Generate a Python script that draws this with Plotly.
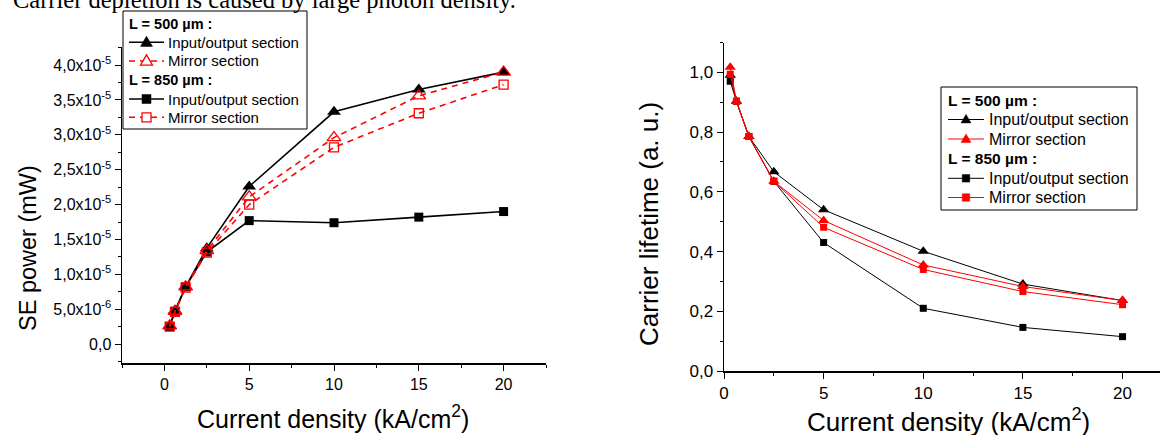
import plotly.graph_objects as go

W, H = 1160, 435

# ---------------- data ----------------
current_density = [0.3125, 0.625, 1.25, 2.5, 5, 10, 15, 20]

se_500_io = [2.6e-6, 4.8e-6, 8.2e-6, 1.375e-5, 2.26e-5, 3.33e-5, 3.65e-5, 3.90e-5]
se_500_mirror = [2.6e-6, 4.7e-6, 8.2e-6, 1.34e-5, 2.11e-5, 2.96e-5, 3.56e-5, 3.90e-5]
se_850_io = [2.5e-6, 4.7e-6, 8.2e-6, 1.32e-5, 1.77e-5, 1.74e-5, 1.82e-5, 1.90e-5]
se_850_mirror = [2.5e-6, 4.6e-6, 8.1e-6, 1.31e-5, 2.00e-5, 2.82e-5, 3.31e-5, 3.72e-5]

lt_500_io = [0.99, 0.903, 0.785, 0.667, 0.540, 0.401, 0.291, 0.236]
lt_500_mirror = [1.017, 0.903, 0.785, 0.635, 0.504, 0.355, 0.283, 0.236]
lt_850_io = [0.970, 0.903, 0.785, 0.635, 0.430, 0.210, 0.146, 0.115]
lt_850_mirror = [0.994, 0.903, 0.785, 0.635, 0.481, 0.340, 0.266, 0.222]

se_tickvals = [0, 5e-6, 1e-5, 1.5e-5, 2e-5, 2.5e-5, 3e-5, 3.5e-5, 4e-5]
se_ticktext = ["0,0", "5,0x10<sup>-6</sup>", "1,0x10<sup>-5</sup>", "1,5x10<sup>-5</sup>",
               "2,0x10<sup>-5</sup>", "2,5x10<sup>-5</sup>", "3,0x10<sup>-5</sup>",
               "3,5x10<sup>-5</sup>", "4,0x10<sup>-5</sup>"]
x_tickvals = [0, 5, 10, 15, 20]
lt_tickvals = [0, 0.2, 0.4, 0.6, 0.8, 1.0]
lt_ticktext = ["0,0", "0,2", "0,4", "0,6", "0,8", "1,0"]

group_500 = "L = 500 µm :"
group_850 = "L = 850 µm :"
name_io = "Input/output section"
name_mirror = "Mirror section"
top_text = "Carrier depletion is caused by large photon density."
xtitle = "Current density (kA/cm<sup>2</sup>)"
ytitle_left = "SE power (mW)"
ytitle_right = "Carrier lifetime (a. u.)"

SANS = "Liberation Sans, Arial, sans-serif"
SERIF = "Liberation Serif, Times New Roman, serif"
RED = "#ff0000"


def px(xp):
    return xp / W


def py(yp):
    return (H - yp) / H


# styles of the four series in each chart
left_styles = {
    "500io": dict(color="black", dash="solid", width=1.6, symbol="triangle-up", size=12, open=False),
    "500mi": dict(color=RED, dash="6px,5px", width=1.6, symbol="triangle-up-open", size=12, open=True),
    "850io": dict(color="black", dash="solid", width=1.6, symbol="square", size=9, open=False),
    "850mi": dict(color=RED, dash="6px,5px", width=1.6, symbol="square-open", size=9, open=True),
}
right_styles = {
    "500io": dict(color="black", dash="solid", width=1, symbol="triangle-up", size=10, open=False),
    "500mi": dict(color=RED, dash="solid", width=1, symbol="triangle-up", size=10, open=False),
    "850io": dict(color="black", dash="solid", width=1, symbol="square", size=7, open=False),
    "850mi": dict(color=RED, dash="solid", width=1, symbol="square", size=7, open=False),
}

fig = go.Figure()


def add_series(y, name, st, xa, ya):
    marker = dict(symbol=st["symbol"], size=st["size"], color=st["color"])
    if st["open"]:
        marker["line"] = dict(width=1.3, color=st["color"])
    fig.add_trace(go.Scatter(
        x=current_density, y=y, name=name, mode="lines+markers",
        line=dict(color=st["color"], width=st["width"], dash=st["dash"]),
        marker=marker, xaxis=xa, yaxis=ya, showlegend=False))


# draw black series first, red on top (as in the reference)
add_series(se_850_io, name_io, left_styles["850io"], "x", "y")
add_series(se_500_io, name_io, left_styles["500io"], "x", "y")
add_series(se_850_mirror, name_mirror, left_styles["850mi"], "x", "y")
add_series(se_500_mirror, name_mirror, left_styles["500mi"], "x", "y")

add_series(lt_850_io, name_io, right_styles["850io"], "x2", "y2")
add_series(lt_500_io, name_io, right_styles["500io"], "x2", "y2")
add_series(lt_850_mirror, name_mirror, right_styles["850mi"], "x2", "y2")
add_series(lt_500_mirror, name_mirror, right_styles["500mi"], "x2", "y2")

axis_common = dict(
    showline=True, linecolor="black", linewidth=1.5, showgrid=False, zeroline=False,
    ticks="outside", ticklen=6, tickwidth=1, tickcolor="black", mirror=False,
)
minor_common = dict(ticks="outside", ticklen=3, tickcolor="black", tickwidth=1, showgrid=False)

fig.update_layout(
    width=W, height=H,
    margin=dict(l=0, r=0, t=0, b=0, autoexpand=False),
    paper_bgcolor="white", plot_bgcolor="white",
    font=dict(family=SANS, color="black"),
    showlegend=False,
    hovermode=False,
    xaxis=dict(domain=[px(122), px(546)], range=[-2.5, 22.5], anchor="y",
               tickvals=x_tickvals, tickfont=dict(size=16),
               minor=dict(dtick=2.5, tick0=0, **minor_common), **axis_common),
    yaxis=dict(domain=[py(363), py(47)], range=[-2.72e-6, 4.26e-5], anchor="x",
               tickvals=se_tickvals, ticktext=se_ticktext, tickfont=dict(size=16),
               minor=dict(dtick=2.5e-6, tick0=0, **minor_common), **axis_common),
    xaxis2=dict(domain=[px(724), 1.0], range=[0, 21.88], anchor="y2",
                tickvals=x_tickvals, tickfont=dict(size=17),
                minor=dict(dtick=2.5, tick0=0, **minor_common), **axis_common),
    yaxis2=dict(domain=[py(371), py(42.5)], range=[0, 1.1], anchor="x2",
                tickvals=lt_tickvals, ticktext=lt_ticktext, tickfont=dict(size=17),
                minor=dict(dtick=0.1, tick0=0, **minor_common), **axis_common),
)

shapes = []
annotations = []


def marker_path(cx, cy, symbol, size):
    if symbol.startswith("triangle"):
        w = size * 1.0
        h = size * 0.85
        pts = [(cx - w / 2, cy + h * 0.4), (cx + w / 2, cy + h * 0.4), (cx, cy - h * 0.6)]
    else:
        s = size
        pts = [(cx - s / 2, cy - s / 2), (cx + s / 2, cy - s / 2),
               (cx + s / 2, cy + s / 2), (cx - s / 2, cy + s / 2)]
    d = "M " + " L ".join(f"{px(x):.5f},{py(y):.5f}" for x, y in pts) + " Z"
    return d


def add_legend(box, rows, header_x, line_x0, line_x1, text_x, size, hsize, entries):
    x0, y0, x1, y1 = box
    shapes.append(dict(type="rect", xref="paper", yref="paper", x0=px(x0), x1=px(x1),
                       y0=py(y1), y1=py(y0), line=dict(color="black", width=1),
                       fillcolor="white", layer="above"))
    for ry, ent in zip(rows, entries):
        if ent[0] == "header":
            annotations.append(dict(text="<b>" + ent[1] + "</b>", x=px(header_x), y=py(ry),
                                    xanchor="left", yanchor="middle",
                                    font=dict(size=hsize), showarrow=False))
        else:
            _, label, st, msize = ent
            shapes.append(dict(type="line", xref="paper", yref="paper",
                               x0=px(line_x0), x1=px(line_x1), y0=py(ry), y1=py(ry),
                               line=dict(color=st["color"], width=st["width"], dash=st["dash"]),
                               layer="above"))
            cx = (line_x0 + line_x1) / 2
            shapes.append(dict(type="path", xref="paper", yref="paper",
                               path=marker_path(cx, ry, st["symbol"], msize),
                               fillcolor="white" if st["open"] else st["color"],
                               line=dict(color=st["color"], width=1.3 if st["open"] else 0.5),
                               layer="above"))
            annotations.append(dict(text=label, x=px(text_x), y=py(ry), xanchor="left",
                                    yanchor="middle", font=dict(size=size), showarrow=False))


add_legend((123, 11, 307, 129), [24, 42.3, 61, 80, 99, 117.3], 127, 129, 164, 166, 15, 14.5,
           [("header", group_500),
            ("item", name_io, left_styles["500io"], 12),
            ("item", name_mirror, left_styles["500mi"], 12),
            ("header", group_850),
            ("item", name_io, left_styles["850io"], 9),
            ("item", name_mirror, left_styles["850mi"], 9)])

add_legend((941, 87, 1137, 210), [101, 119.5, 139, 159, 178.3, 197.5], 946, 948, 984, 987, 16, 15.5,
           [("header", group_500),
            ("item", name_io, right_styles["500io"], 10),
            ("item", name_mirror, right_styles["500mi"], 10),
            ("header", group_850),
            ("item", name_io, right_styles["850io"], 7.5),
            ("item", name_mirror, right_styles["850mi"], 7.5)])

annotations += [
    dict(text=top_text, x=px(11), y=py(15), xanchor="left", yanchor="bottom",
         font=dict(family=SERIF, size=24.5), showarrow=False),
    dict(text=xtitle, x=px(333), y=py(435), xanchor="center", yanchor="bottom",
         font=dict(size=25), showarrow=False),
    dict(text=ytitle_left, x=px(28), y=py(248), xanchor="center", yanchor="middle",
         textangle=-90, font=dict(size=23.5), showarrow=False),
    dict(text=xtitle, x=px(948), y=py(438.5), xanchor="center", yanchor="bottom",
         font=dict(size=26), showarrow=False),
    dict(text=ytitle_right, x=px(649), y=py(224), xanchor="center", yanchor="middle",
         textangle=-90, font=dict(size=26), showarrow=False),
]
for a in annotations:
    a.update(xref="paper", yref="paper")

fig.update_layout(shapes=shapes, annotations=annotations)

fig.write_html("out.html",
               config={"displayModeBar": False, "staticPlot": True},
               post_script="document.body.style.margin='0';document.body.style.overflow='hidden';")
